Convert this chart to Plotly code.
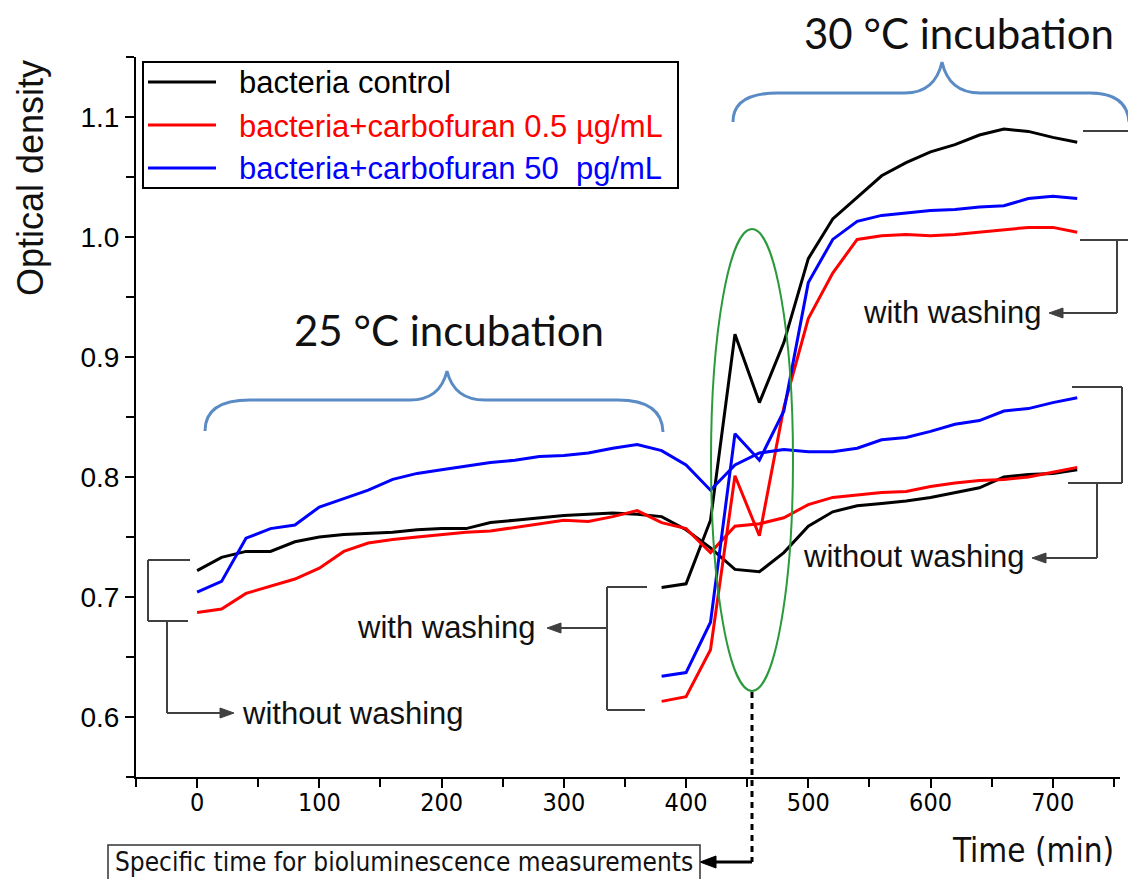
import plotly.graph_objects as go

# ---------------- data ----------------
time_without = list(range(0, 721, 20))
time_with = list(range(380, 721, 20))

control_without = [0.722, 0.733, 0.738, 0.738, 0.746, 0.750, 0.752, 0.753, 0.754, 0.756,
                   0.757, 0.757, 0.762, 0.764, 0.766, 0.768, 0.769, 0.770, 0.769, 0.767,
                   0.756, 0.741, 0.723, 0.721, 0.737, 0.759, 0.771, 0.776, 0.778, 0.780,
                   0.783, 0.787, 0.791, 0.800, 0.802, 0.803, 0.806]
carbo05_without = [0.687, 0.690, 0.703, 0.709, 0.715, 0.724, 0.738, 0.745, 0.748, 0.750,
                   0.752, 0.754, 0.755, 0.758, 0.761, 0.764, 0.763, 0.767, 0.772, 0.762,
                   0.757, 0.737, 0.759, 0.761, 0.766, 0.777, 0.783, 0.785, 0.787, 0.788,
                   0.792, 0.795, 0.797, 0.798, 0.800, 0.804, 0.808]
carbo50_without = [0.704, 0.713, 0.749, 0.757, 0.760, 0.775, 0.782, 0.789, 0.798, 0.803,
                   0.806, 0.809, 0.812, 0.814, 0.817, 0.818, 0.820, 0.824, 0.827, 0.822,
                   0.810, 0.789, 0.810, 0.820, 0.823, 0.821, 0.821, 0.824, 0.831, 0.833,
                   0.838, 0.844, 0.847, 0.855, 0.857, 0.862, 0.866]

control_with = [0.708, 0.711, 0.764, 0.919, 0.862, 0.912, 0.982, 1.015, 1.033, 1.051,
                1.062, 1.071, 1.077, 1.085, 1.090, 1.088, 1.083, 1.079]
carbo05_with = [0.613, 0.617, 0.656, 0.801, 0.751, 0.858, 0.932, 0.970, 0.998, 1.001,
                1.002, 1.001, 1.002, 1.004, 1.006, 1.008, 1.008, 1.004]
carbo50_with = [0.634, 0.637, 0.679, 0.836, 0.814, 0.855, 0.962, 0.998, 1.013, 1.018,
                1.020, 1.022, 1.023, 1.025, 1.026, 1.032, 1.034, 1.032]

series_names = ["bacteria control",
                "bacteria+carbofuran 0.5 µg/mL",
                "bacteria+carbofuran 50  pg/mL"]
series_colors = ["#000000", "#ff0000", "#0000ff"]
x_ticks = [0, 100, 200, 300, 400, 500, 600, 700]
y_ticks = [0.6, 0.7, 0.8, 0.9, 1.0, 1.1]

# ---------------- geometry helpers (pixel -> paper) ----------------
W, H = 1128, 879
ML, MR, MT, MB = 136, 8, 57, 102
PW, PH = W - ML - MR, H - MT - MB
NARROW = "DejaVu Sans Condensed, Roboto, sans-serif"
SANS = "Liberation Sans, Arial, sans-serif"


def px(x):
    return (x - ML) / PW


def py(y):
    return 1 - (y - MT) / PH


fig = go.Figure()
withouts = [control_without, carbo05_without, carbo50_without]
withs = [control_with, carbo05_with, carbo50_with]
for name, col, wo, wi in zip(series_names, series_colors, withouts, withs):
    fig.add_trace(go.Scatter(
        x=time_without + [None] + time_with,
        y=wo + [None] + wi,
        mode="lines", name=name,
        line=dict(color=col, width=3),
        connectgaps=False, showlegend=False))

shapes = []
annots = []
GRAY = "#404040"
BRACE = "#5b8bc5"


def line(x0, y0, x1, y1, color=GRAY, width=2, dash=None):
    d = dict(type="line", xref="paper", yref="paper",
             x0=px(x0), y0=py(y0), x1=px(x1), y1=py(y1),
             line=dict(color=color, width=width))
    if dash:
        d["line"]["dash"] = dash
    shapes.append(d)


def tri_left(tipx, y, color=GRAY, length=14, half=5):
    p = f"M{px(tipx)},{py(y)} L{px(tipx+length)},{py(y-half)} L{px(tipx+length)},{py(y+half)} Z"
    shapes.append(dict(type="path", xref="paper", yref="paper", path=p,
                       fillcolor=color, line=dict(color=color, width=1)))


def tri_right(tipx, y, color=GRAY, length=14, half=5):
    p = f"M{px(tipx)},{py(y)} L{px(tipx-length)},{py(y-half)} L{px(tipx-length)},{py(y+half)} Z"
    shapes.append(dict(type="path", xref="paper", yref="paper", path=p,
                       fillcolor=color, line=dict(color=color, width=1)))


def svgpath(spec):
    out = []
    for cmd, pts in spec:
        out.append(cmd + " ".join(f"{px(a)},{py(b)}" for a, b in pts))
    return " ".join(out)


def text(x, y, s, size=31, color="#111111", family=SANS,
         xanchor="left", yanchor="middle", angle=0):
    annots.append(dict(xref="paper", yref="paper", x=px(x), y=py(y), text=s,
                       showarrow=False, xanchor=xanchor, yanchor=yanchor,
                       textangle=angle,
                       font=dict(size=size, color=color, family=family)))


# ---- legend (manual) ----
shapes.append(dict(type="rect", xref="paper", yref="paper",
                   x0=px(143), y0=py(62), x1=px(678), y1=py(188),
                   line=dict(color="black", width=2), fillcolor="white", layer="above"))
for i, (name, col) in enumerate(zip(series_names, series_colors)):
    yy = [82, 125, 168][i]
    line(148, yy, 216, yy, color=col, width=3)
    text(237, [83, 127, 168][i], name, size=31, color=col)

# ---- braces ----
b1 = svgpath([("M", [(205, 431)]), ("Q", [(205, 400), (250, 400)]), ("L", [(410, 400)]),
              ("Q", [(440, 400), (447, 371)]), ("Q", [(454, 400), (485, 400)]),
              ("L", [(618, 400)]), ("Q", [(662, 400), (663, 432)])])
b2 = svgpath([("M", [(733, 122)]), ("Q", [(733, 93), (778, 93)]), ("L", [(905, 93)]),
              ("Q", [(935, 93), (942, 62)]), ("Q", [(949, 93), (980, 93)]),
              ("L", [(1090, 93)]), ("Q", [(1127, 93), (1129, 122)])])
for b in (b1, b2):
    shapes.append(dict(type="path", xref="paper", yref="paper", path=b,
                       line=dict(color=BRACE, width=3)))

text(449, 330, "25 °C incubation", size=42, color="#111111", family="Lato",
     xanchor="center")
text(959, 33, "30 °C incubation", size=42, color="#111111", family="Lato",
     xanchor="center")

# ---- green ellipse and pointer ----
shapes.append(dict(type="circle", xref="paper", yref="paper",
                   x0=px(711), y0=py(229), x1=px(793), y1=py(691),
                   line=dict(color="#2a9a3c", width=2)))
line(752, 692, 752, 862, color="black", width=3, dash="6px,5px")
line(752, 862, 712, 862, color="black", width=3)
tri_left(700, 862, color="black", length=16, half=6)

shapes.append(dict(type="rect", xref="paper", yref="paper",
                   x0=px(108), y0=py(845), x1=px(700), y1=py(882),
                   line=dict(color="#333333", width=1.5)))
text(404, 862, "Specific time for bioluminescence measurements", size=26,
     family=NARROW, xanchor="center")

# ---- gray brackets ----
# left (without washing)
line(190, 560, 148, 560); line(148, 560, 148, 621); line(148, 621, 188, 621)
line(167, 621, 167, 713); line(167, 713, 222, 713)
tri_right(234, 713)
text(240, 713, "without washing", size=31)
# middle (with washing)
line(647, 587, 607, 587); line(607, 587, 607, 710); line(607, 710, 645, 710)
line(607, 628, 560, 628)
tri_left(547, 628)
text(537, 627, "with washing", size=31, xanchor="right")
# right top (with washing)
line(1083, 131, 1130, 131); line(1080, 240, 1130, 240)
line(1117, 240, 1117, 313); line(1117, 313, 1062, 313)
tri_left(1049, 313)
text(1043, 312, "with washing", size=31, xanchor="right")
# right bottom (without washing)
line(1072, 387, 1122, 387); line(1122, 387, 1122, 483); line(1068, 483, 1122, 483)
line(1097, 483, 1097, 558); line(1097, 558, 1045, 558)
tri_left(1032, 558)
text(1027, 556, "without washing", size=31, xanchor="right")

# ---- axis titles ----
text(30, 178, "Optical density", size=36, angle=-90, xanchor="center")
text(1033, 850, "Time (min)", size=33, family=NARROW, xanchor="center")

fig.update_layout(
    width=W, height=H,
    margin=dict(l=ML, r=MR, t=MT, b=MB),
    plot_bgcolor="white", paper_bgcolor="white",
    shapes=shapes, annotations=annots,
    showlegend=False,
    xaxis=dict(range=[-50, 755], tickvals=x_ticks, showline=True, linecolor="black",
               linewidth=2, ticks="outside", ticklen=9, tickwidth=2, tickcolor="black",
               minor=dict(dtick=50, tick0=0, ticks="outside", ticklen=8, tickwidth=2,
                          tickcolor="black"),
               showgrid=False, zeroline=False, ticklabelstandoff=-7,
               tickfont=dict(family=NARROW, size=25, color="black")),
    yaxis=dict(range=[0.55, 1.15], tickvals=y_ticks, tickformat=".1f", showline=True,
               linecolor="black", linewidth=2, ticks="outside", ticklen=9, tickwidth=2,
               tickcolor="black",
               minor=dict(dtick=0.05, tick0=0.55, ticks="outside", ticklen=8,
                          tickwidth=2, tickcolor="black"),
               showgrid=False, zeroline=False,
               tickfont=dict(family=SANS, size=28, color="black")),
)

fig.write_html("out.html")
